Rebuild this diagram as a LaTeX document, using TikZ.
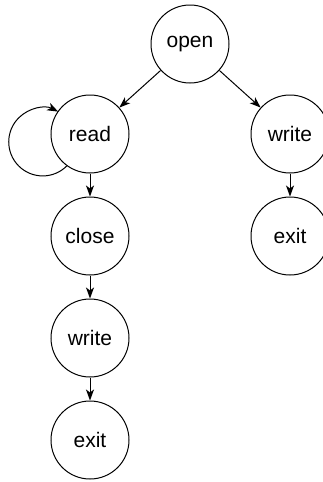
\documentclass[tikz,border=0pt]{standalone}
\usepackage{fontspec}
\setmainfont{Liberation Sans}
\usepackage{tikz}
\usetikzlibrary{trees,positioning,arrows.meta}

\begin{document}
\begin{tikzpicture}[
    x=1pt, y=1pt,
    level 1/.style={sibling distance=200pt, level distance=90pt},
    level 2/.style={level distance=102pt},
    every node/.style={draw, circle, minimum size=78pt, inner sep=0pt, line width=1pt, font=\fontsize{21}{25}\selectfont},
    arr/.style={-{Stealth[length=11pt, width=8pt, inset=3pt]}, line width=1pt},
    edge from parent/.style={draw, arr}
]
\useasboundingbox (0,0) rectangle (323,-482);
\node (open) at (190,-44) {open}
    child {node (read) {read}
        child {node (close) {close}
            child {node (writeL) {write}
                child {node (exitL) {exit}}
            }
        }
    }
    child {node (writeR) {write}
        child {node (exitR) {exit}}
    };
\draw[arr] (read.234) arc[start angle=-45, end angle=-297, radius=34pt];
\end{tikzpicture}
\end{document}
